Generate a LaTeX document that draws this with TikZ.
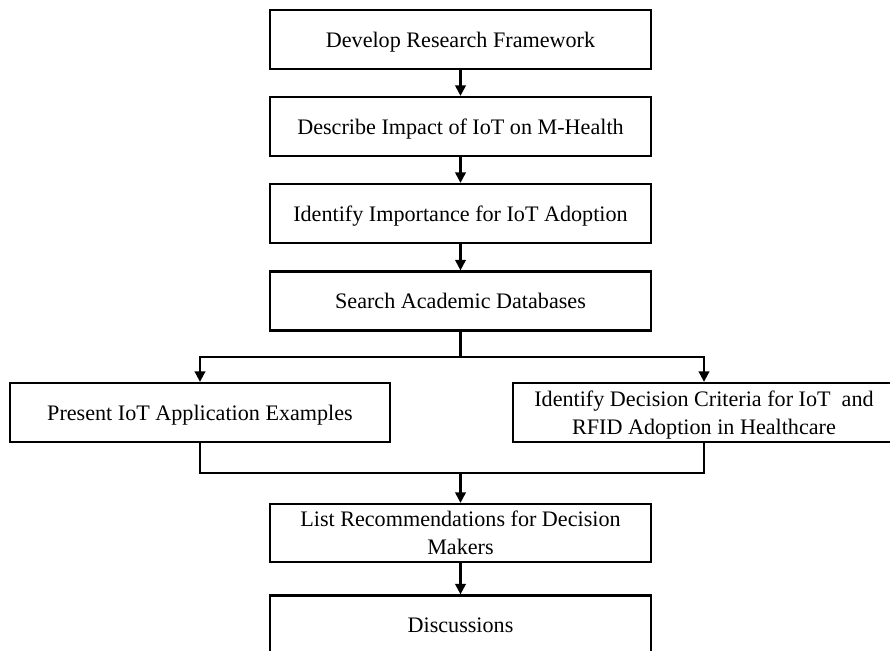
\documentclass[tikz,border=0pt]{standalone}
\usepackage{fontspec}
\setmainfont{Liberation Serif}
\usetikzlibrary{arrows.meta}

\begin{document}
\begin{tikzpicture}[x=0.02cm, y=-0.02cm,
        stepbox/.style={draw, line width=1.3pt, minimum width=7.62cm, minimum height=1.18cm,
            align=center, inner sep=2pt, text depth=0pt, font=\fontsize{12.6}{15.9}\selectfont},
        link/.style={line width=1.3pt},
        arr/.style={link, -{Triangle[length=6pt, width=6pt]}}]
        \path[use as bounding box, clip] (0,0) rectangle (890,650);

        \node[stepbox] (dev)    at (460.5, 39.5)  {Develop Research Framework};
        \node[stepbox] (desc)   at (460.5, 126.5) {Describe Impact of IoT on M-Health};
        \node[stepbox] (imp)    at (460.5, 213.5) {Identify Importance for IoT Adoption};
        \node[stepbox] (search) at (460.5, 301)   {Search Academic Databases};
        \node[stepbox, minimum width=7.6cm] (present) at (200, 412.5) {Present IoT Application Examples};
        \node[stepbox, minimum width=7.64cm] (crit) at (704, 412.5) {Identify Decision Criteria for IoT\ \ and\\RFID Adoption in Healthcare};
        \node[stepbox, minimum height=1.16cm] (recs) at (460.5, 533) {List Recommendations for Decision\\Makers};
        \node[stepbox] (disc)   at (460.5, 625)   {Discussions};

        \coordinate (split) at (460.5, 357);
        \coordinate (merge) at (460.5, 473);

        \draw[arr] (dev) -- (desc);
        \draw[arr] (desc) -- (imp);
        \draw[arr] (imp) -- (search);
        \draw[link] (search) -- (split);
        \draw[arr] (split) -| (present);
        \draw[arr] (split) -| (crit);
        \draw[link] (present) |- (merge);
        \draw[link] (crit) |- (merge);
        \draw[arr] (merge) -- (recs);
        \draw[arr] (recs) -- (disc);
    \end{tikzpicture}
\end{document}
